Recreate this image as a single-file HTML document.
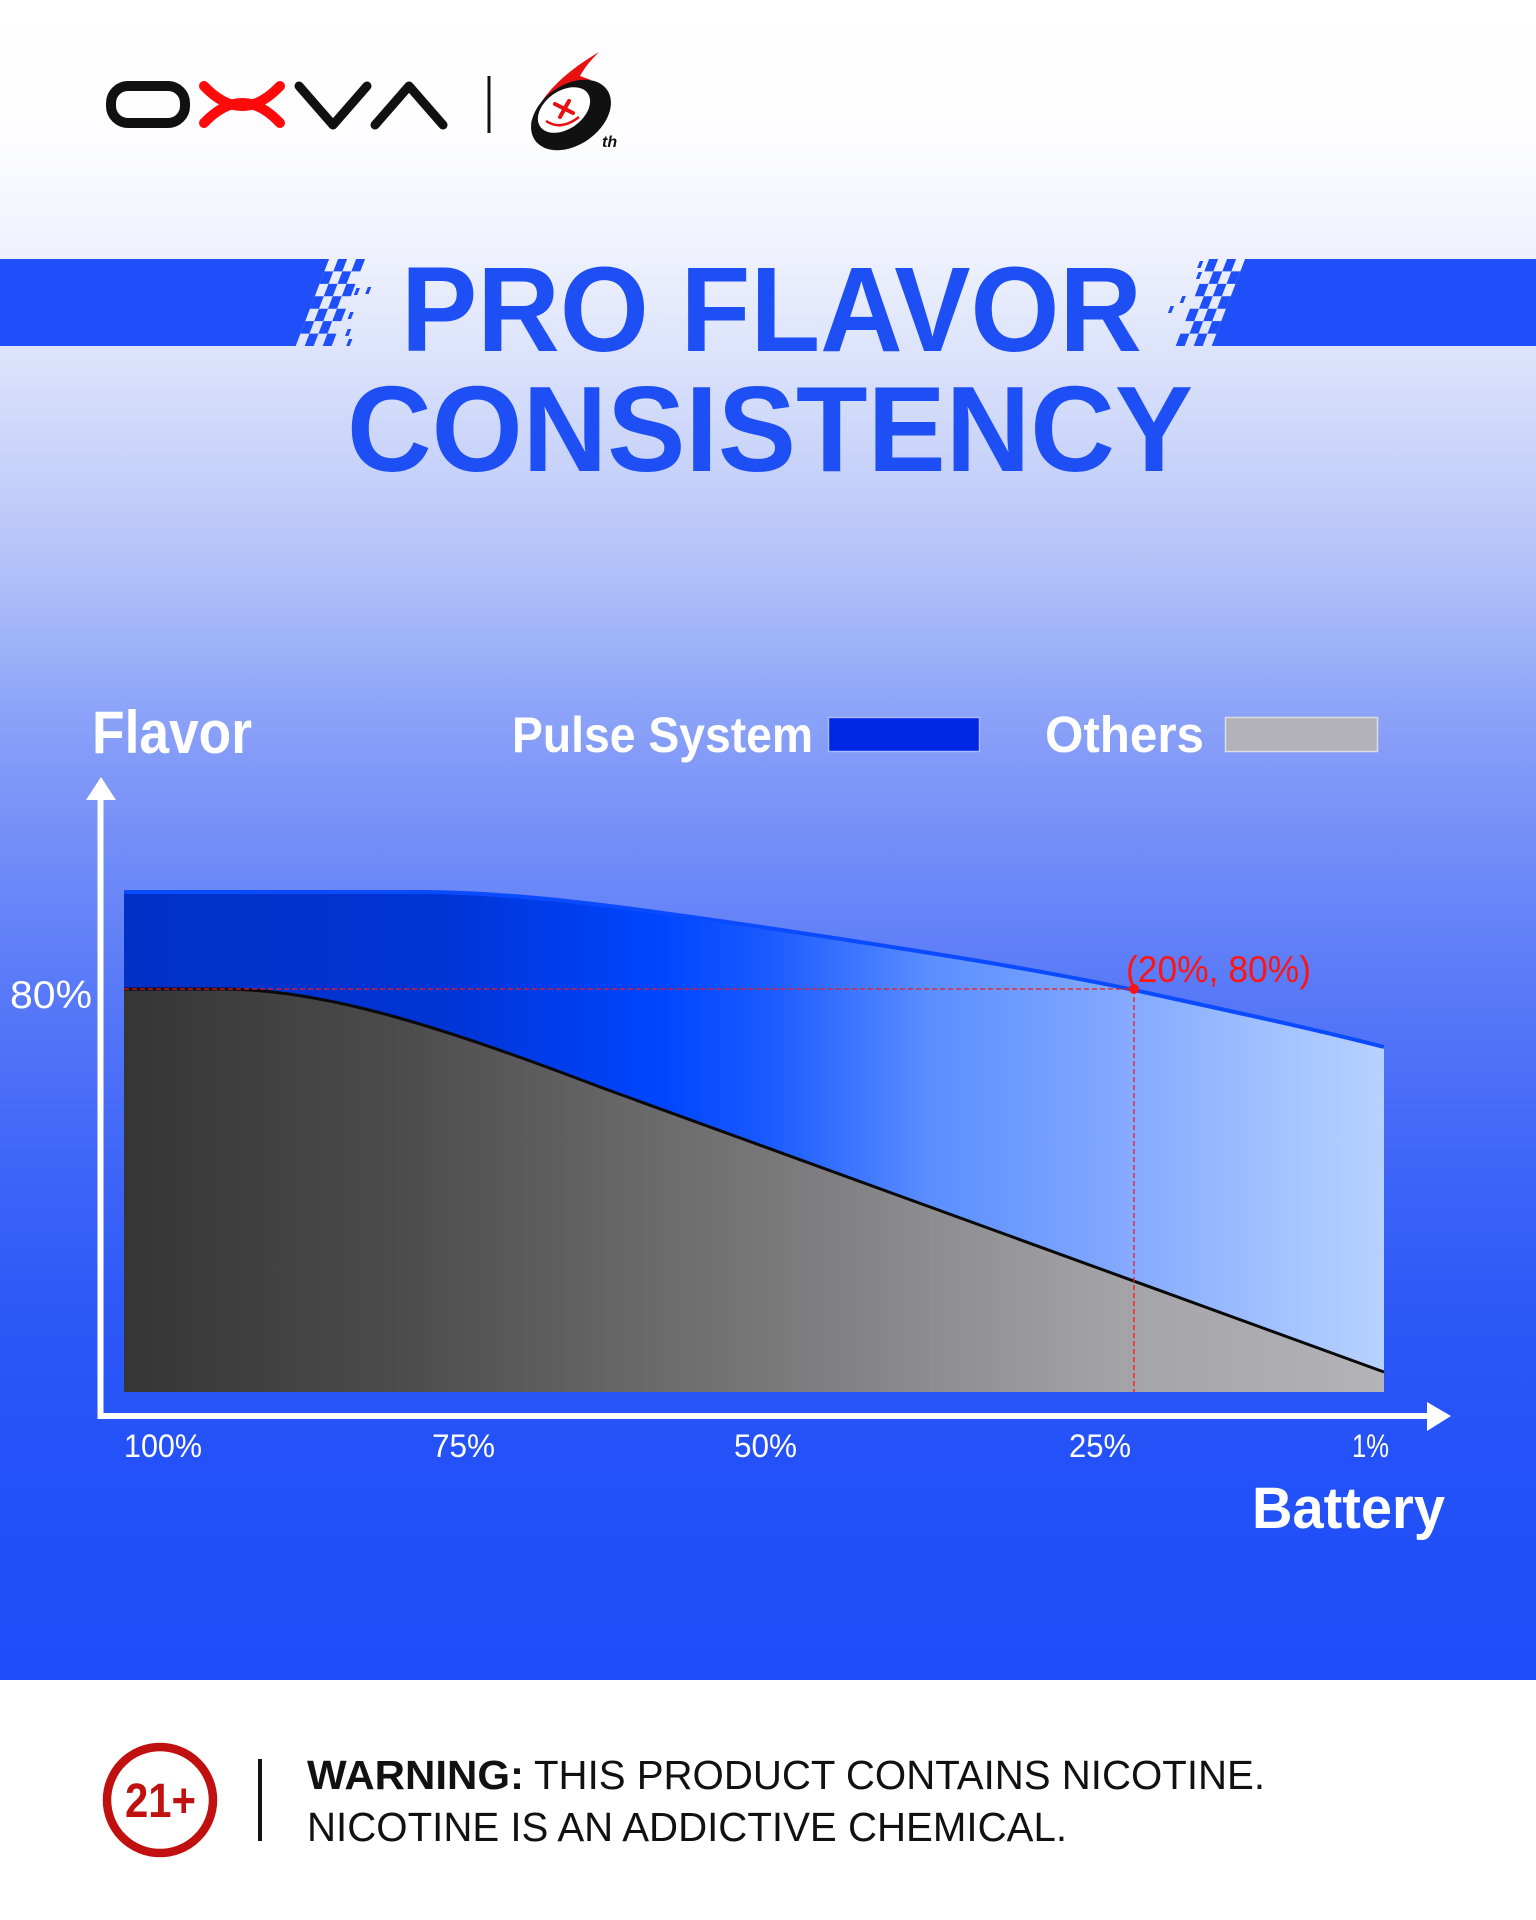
<!DOCTYPE html>
<html>
<head>
<meta charset="utf-8">
<style>
  html,body{margin:0;padding:0;background:#fff;}
  svg{display:block;}
  text{font-family:"Liberation Sans",Arial,sans-serif;}
</style>
</head>
<body>
<svg width="1536" height="1920" viewBox="0 0 1536 1920" xmlns="http://www.w3.org/2000/svg">
  <defs>
    <linearGradient id="bg" x1="0" y1="0" x2="0" y2="1680" gradientUnits="userSpaceOnUse">
      <stop offset="0" stop-color="#ffffff"/>
      <stop offset="0.083" stop-color="#fdfdff"/>
      <stop offset="0.149" stop-color="#eff2fd"/>
      <stop offset="0.214" stop-color="#dbe2fb"/>
      <stop offset="0.298" stop-color="#c1cdf9"/>
      <stop offset="0.387" stop-color="#9db1f8"/>
      <stop offset="0.417" stop-color="#8ea5f8"/>
      <stop offset="0.476" stop-color="#7b94f8"/>
      <stop offset="0.536" stop-color="#6886f8"/>
      <stop offset="0.619" stop-color="#5073f8"/>
      <stop offset="0.690" stop-color="#4066f8"/>
      <stop offset="0.774" stop-color="#2e59f8"/>
      <stop offset="0.863" stop-color="#2452f8"/>
      <stop offset="1" stop-color="#1e4ef8"/>
    </linearGradient>
    <linearGradient id="blueFill" x1="124" y1="0" x2="1384" y2="0" gradientUnits="userSpaceOnUse">
      <stop offset="0" stop-color="#0030c6"/>
      <stop offset="0.25" stop-color="#0034d4"/>
      <stop offset="0.425" stop-color="#0045ff"/>
      <stop offset="0.51" stop-color="#1a5aff"/>
      <stop offset="0.64" stop-color="#5b8eff"/>
      <stop offset="0.806" stop-color="#86acff"/>
      <stop offset="1" stop-color="#b8d2ff"/>
    </linearGradient>
    <linearGradient id="greyFill" x1="124" y1="0" x2="1384" y2="0" gradientUnits="userSpaceOnUse">
      <stop offset="0" stop-color="#353535"/>
      <stop offset="0.22" stop-color="#4c4c4c"/>
      <stop offset="0.51" stop-color="#787879"/>
      <stop offset="0.78" stop-color="#a3a3a7"/>
      <stop offset="1" stop-color="#b4b4b8"/>
    </linearGradient>
  </defs>

  <!-- background -->
  <rect x="0" y="0" width="1536" height="1680" fill="url(#bg)"/>
  <rect x="0" y="1680" width="1536" height="240" fill="#ffffff"/>

  <!-- OXVA logo -->
  <g fill="none" stroke-linecap="round" stroke-linejoin="round">
    <rect x="111" y="86" width="74" height="37" rx="17" ry="17" stroke="#111" stroke-width="10"/>
    <path d="M204,86 Q242,126 280,86" stroke="#ff0a0a" stroke-width="10"/>
    <path d="M204,123 Q242,83 280,123" stroke="#ff0a0a" stroke-width="10"/>
    <path d="M299,86 L333,125 L367,86" stroke="#111" stroke-width="9"/>
    <path d="M375,125 L409,86 L443,125" stroke="#111" stroke-width="9"/>
  </g>
  <rect x="487.5" y="76" width="3" height="57" fill="#111"/>

  <!-- 6th logo -->
  <g>
    <path fill="#e81010" d="M599,52 C572,68 540,92 530,126 C536,108 552,92 568,84 C574,81 582,80 591,80 L580,76 C585,67 591,60 599,52 Z"/>
    <ellipse cx="571" cy="115" rx="44" ry="30" transform="rotate(-35 571 115)" fill="#111"/>
    <ellipse cx="564" cy="110" rx="29" ry="19" transform="rotate(-35 564 110)" fill="#fff"/>
    <path d="M546,121 Q561,131 579,117" stroke="#e81010" stroke-width="2.5" fill="none"/>
    <path d="M555,104 L573,113 M569,101 L560,117" stroke="#e81010" stroke-width="4" stroke-linecap="round" fill="none"/>
    <text x="602" y="147" font-size="16" font-weight="bold" font-style="italic" fill="#111">th</text>
  </g>

  <!-- Banner with checkered ends -->
  <g fill="#1e4ff8" transform="skewX(-21)">
    <rect x="-300" y="259" width="728.5" height="87"/>
    <rect x="437.5" y="259" width="9" height="12.43"/>
    <rect x="455.5" y="259" width="9" height="12.43"/>
    <rect x="428.5" y="271.43" width="9" height="12.43"/>
    <rect x="446.5" y="271.43" width="9" height="12.43"/>
    <rect x="437.5" y="283.86" width="9" height="12.43"/>
    <rect x="455.5" y="283.86" width="9" height="12.43"/>
    <rect x="428.5" y="296.29" width="9" height="12.43"/>
    <rect x="446.5" y="296.29" width="9" height="12.43"/>
    <rect x="437.5" y="308.71" width="9" height="12.43"/>
    <rect x="455.5" y="308.71" width="9" height="12.43"/>
    <rect x="428.5" y="321.14" width="9" height="12.43"/>
    <rect x="446.5" y="321.14" width="9" height="12.43"/>
    <rect x="437.5" y="333.57" width="9" height="12.43"/>
    <rect x="455.5" y="333.57" width="9" height="12.43"/>
    <rect x="467" y="288" width="3.5" height="7"/>
    <rect x="478" y="287" width="3.5" height="7"/>
    <rect x="470" y="312" width="3.5" height="7"/>
    <rect x="474" y="329" width="3.5" height="7"/>
    <rect x="479" y="339" width="3.5" height="7"/>
    <rect x="1344.5" y="259" width="700" height="87"/>
    <rect x="1326.5" y="259" width="9" height="12.43"/>
    <rect x="1308.5" y="259" width="9" height="12.43"/>
    <rect x="1335.5" y="271.43" width="9" height="12.43"/>
    <rect x="1317.5" y="271.43" width="9" height="12.43"/>
    <rect x="1326.5" y="283.86" width="9" height="12.43"/>
    <rect x="1308.5" y="283.86" width="9" height="12.43"/>
    <rect x="1335.5" y="296.29" width="9" height="12.43"/>
    <rect x="1317.5" y="296.29" width="9" height="12.43"/>
    <rect x="1326.5" y="308.71" width="9" height="12.43"/>
    <rect x="1308.5" y="308.71" width="9" height="12.43"/>
    <rect x="1335.5" y="321.14" width="9" height="12.43"/>
    <rect x="1317.5" y="321.14" width="9" height="12.43"/>
    <rect x="1326.5" y="333.57" width="9" height="12.43"/>
    <rect x="1308.5" y="333.57" width="9" height="12.43"/>
    <rect x="1300" y="261" width="3.5" height="7"/>
    <rect x="1303" y="272" width="3.5" height="7"/>
    <rect x="1296" y="296" width="3.5" height="7"/>
    <rect x="1288" y="306" width="3.5" height="7"/>
  </g>

  <!-- Title -->
  <text x="401" y="351" font-size="121" font-weight="bold" fill="#1e4ff5" textLength="741" lengthAdjust="spacingAndGlyphs">PRO FLAVOR</text>
  <text x="347" y="471" font-size="122" font-weight="bold" fill="#1e4ff5" textLength="846" lengthAdjust="spacingAndGlyphs">CONSISTENCY</text>

  <!-- Legend / axis titles -->
  <text x="92" y="753" font-size="60" font-weight="bold" fill="#fff" textLength="160" lengthAdjust="spacingAndGlyphs">Flavor</text>
  <text x="512" y="752" font-size="50" font-weight="bold" fill="#fff" textLength="301" lengthAdjust="spacingAndGlyphs">Pulse System</text>
  <rect x="828.5" y="717.5" width="151" height="34" fill="#0026e6" stroke="#a8b8ff" stroke-width="1.5"/>
  <text x="1045" y="752" font-size="51" font-weight="bold" fill="#fff" textLength="159" lengthAdjust="spacingAndGlyphs">Others</text>
  <rect x="1225.5" y="717.5" width="152" height="34" fill="#b3b2b8" stroke="#dcdce4" stroke-width="1.5"/>

  <!-- Chart areas -->
  <path d="M124,891 L426,891 C520,892 620,905 768,927 C900,947 1020,965 1134,989 C1230,1010 1310,1027 1384,1046 L1384,1392 L124,1392 Z" fill="url(#blueFill)"/>
  <path d="M124,892 L426,892 C520,893 620,906 768,928 C900,948 1020,966 1134,990 C1230,1011 1310,1028 1384,1047" fill="none" stroke="#0a4bff" stroke-width="4"/>
  <path d="M124,989 L225,989 C330,990 450,1030 600,1087 L1384,1372 L1384,1392 L124,1392 Z" fill="url(#greyFill)"/>
  <path d="M124,989 L225,989 C330,990 450,1030 600,1087 L1384,1372" fill="none" stroke="#0a0a0a" stroke-width="3"/>

  <!-- Red markers -->
  <line x1="124" y1="989" x2="1134" y2="989" stroke="#ff1414" stroke-width="1.3" stroke-dasharray="5 3"/>
  <line x1="1134" y1="989" x2="1134" y2="1392" stroke="#ff1414" stroke-width="1.3" stroke-dasharray="5 3"/>
  <circle cx="1134" cy="989" r="5" fill="#ff1414"/>
  <text x="1126" y="982" font-size="37" fill="#ff1414" textLength="185" lengthAdjust="spacingAndGlyphs">(20%, 80%)</text>

  <!-- Axes -->
  <rect x="97.5" y="798" width="6" height="621" fill="#fff"/>
  <polygon points="101,777 86,800 116,800" fill="#fff"/>
  <rect x="97.5" y="1413" width="1332" height="6" fill="#fff"/>
  <polygon points="1451,1416 1427,1402 1427,1431" fill="#fff"/>

  <!-- Axis labels -->
  <text x="10" y="1008" font-size="39" fill="#fff" textLength="82" lengthAdjust="spacingAndGlyphs">80%</text>
  <text x="124" y="1457" font-size="32" fill="#fff" textLength="78" lengthAdjust="spacingAndGlyphs">100%</text>
  <text x="432" y="1457" font-size="32" fill="#fff" textLength="63" lengthAdjust="spacingAndGlyphs">75%</text>
  <text x="734" y="1457" font-size="32" fill="#fff" textLength="63" lengthAdjust="spacingAndGlyphs">50%</text>
  <text x="1069" y="1457" font-size="32" fill="#fff" textLength="62" lengthAdjust="spacingAndGlyphs">25%</text>
  <text x="1352" y="1457" font-size="32" fill="#fff" textLength="37" lengthAdjust="spacingAndGlyphs">1%</text>
  <text x="1252" y="1528" font-size="58" font-weight="bold" fill="#fff" textLength="193" lengthAdjust="spacingAndGlyphs">Battery</text>

  <!-- Warning footer -->
  <circle cx="160" cy="1800" r="53" fill="none" stroke="#c0100f" stroke-width="8.5"/>
  <text x="125" y="1817" font-size="48" font-weight="bold" fill="#c0100f" textLength="71" lengthAdjust="spacingAndGlyphs">21+</text>
  <rect x="258" y="1759" width="4" height="82" fill="#111"/>
  <text x="307" y="1789" font-size="41" font-weight="bold" fill="#111" textLength="217" lengthAdjust="spacingAndGlyphs">WARNING:</text>
  <text x="534" y="1789" font-size="41" fill="#111" textLength="731" lengthAdjust="spacingAndGlyphs">THIS PRODUCT CONTAINS NICOTINE.</text>
  <text x="307" y="1841" font-size="41" fill="#111" textLength="760" lengthAdjust="spacingAndGlyphs">NICOTINE IS AN ADDICTIVE CHEMICAL.</text>
</svg>
</body>
</html>
